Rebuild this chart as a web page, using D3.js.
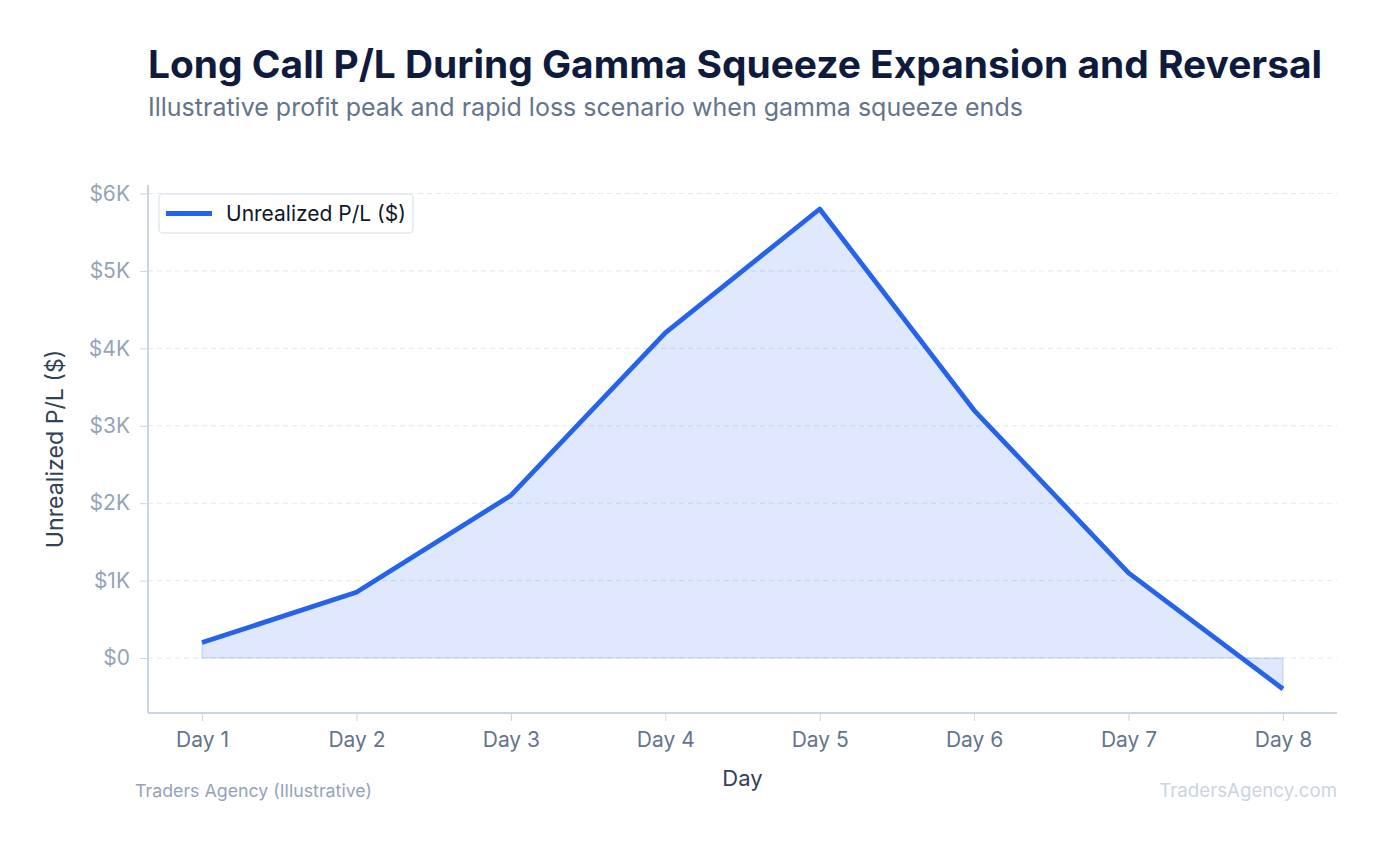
<!DOCTYPE html>
<html>

<head>
  <meta charset="UTF-8">
  <title>Long Call P/L During Gamma Squeeze</title>
  <script src="https://d3js.org/d3.v7.min.js"></script>
  <style>
    body {
      margin: 0;
      background: #fff;
      font-family: Inter, "Noto Sans", sans-serif;
    }

    .grid line {
      stroke: #e2e8f0;
      stroke-dasharray: 5 4;
    }

    .axis path,
    .axis line {
      stroke: #cbd5e1;
    }
  </style>
</head>

<body>
  <div id="chart"></div>
  <script>
    // chart data
    var days = ["Day 1", "Day 2", "Day 3", "Day 4", "Day 5", "Day 6", "Day 7", "Day 8"];
    var pnl = [200, 850, 2100, 4200, 5800, 3200, 1100, -400];
    var yTicks = [0, 1000, 2000, 3000, 4000, 5000, 6000];
    var seriesName = "Unrealized P/L ($)";

    var width = 1383, height = 846;
    var plotLeft = 148, plotRight = 1337, plotTop = 185, plotBottom = 713;

    var svg = d3.select("#chart").append("svg")
      .attr("width", width)
      .attr("height", height);

    var data = days.map(function (d, i) { return { day: d, value: pnl[i] }; });

    var xScale = d3.scalePoint()
      .domain(days)
      .range([plotLeft, plotRight])
      .padding(0.35);

    // 5% grace above and below the data range
    var lo = d3.min(pnl), hi = d3.max(pnl), grace = (hi - lo) * 0.05;
    var yScale = d3.scaleLinear()
      .domain([lo - grace, hi + grace])
      .range([plotBottom, plotTop]);

    // title + subtitle
    svg.append("text")
      .attr("x", plotLeft).attr("y", 78)
      .attr("font-size", 38.9).attr("font-weight", 700)
      .attr("fill", "#0f1b3d")
      .text("Long Call P/L During Gamma Squeeze Expansion and Reversal");

    svg.append("text")
      .attr("x", plotLeft).attr("y", 116)
      .attr("font-size", 25)
      .attr("fill", "#64748b")
      .text("Illustrative profit peak and rapid loss scenario when gamma squeeze ends");

    // gridlines
    svg.append("g")
      .attr("class", "grid")
      .selectAll("line")
      .data(yTicks)
      .enter().append("line")
      .attr("x1", plotLeft).attr("x2", plotRight)
      .attr("y1", function (d) { return yScale(d); })
      .attr("y2", function (d) { return yScale(d); });

    // area to zero
    var area = d3.area()
      .x(function (d) { return xScale(d.day); })
      .y0(yScale(0))
      .y1(function (d) { return yScale(d.value); });

    svg.append("path")
      .datum(data)
      .attr("d", area)
      .attr("fill", "rgba(37,99,235,0.15)")
      .attr("stroke", "rgba(37,99,235,0.12)")
      .attr("stroke-width", 2);

    var line = d3.line()
      .x(function (d) { return xScale(d.day); })
      .y(function (d) { return yScale(d.value); });

    svg.append("path")
      .datum(data)
      .attr("d", line)
      .attr("fill", "none")
      .attr("stroke", "#2563eb")
      .attr("stroke-width", 4.8)
      .attr("stroke-linejoin", "round");

    // axes
    var yAxis = svg.append("g")
      .attr("class", "axis")
      .attr("transform", "translate(" + plotLeft + ",0)")
      .call(d3.axisLeft(yScale)
        .tickValues(yTicks)
        .tickSize(8)
        .tickPadding(10)
        .tickFormat(function (d) { return d === 0 ? "$0" : "$" + d / 1000 + "K"; }));
    yAxis.select(".domain").attr("d", "M0," + plotTop + "V" + plotBottom).attr("stroke-width", 2);
    yAxis.selectAll("text")
      .attr("font-family", "Inter, sans-serif")
      .attr("font-size", 21)
      .attr("fill", "#94a3b8");

    var xAxis = svg.append("g")
      .attr("class", "axis")
      .attr("transform", "translate(0," + plotBottom + ")")
      .call(d3.axisBottom(xScale).tickSize(8).tickPadding(11));
    xAxis.select(".domain").attr("d", "M" + plotLeft + ",0H" + plotRight).attr("stroke-width", 2);
    xAxis.selectAll("text")
      .attr("font-family", "Inter, sans-serif")
      .attr("font-size", 21)
      .attr("fill", "#64748b");

    // axis titles
    svg.append("text")
      .attr("x", (plotLeft + plotRight) / 2).attr("y", 786)
      .attr("text-anchor", "middle")
      .attr("font-size", 22)
      .attr("fill", "#334155")
      .text("Day");

    svg.append("text")
      .attr("transform", "translate(63," + (plotTop + plotBottom) / 2 + ") rotate(-90)")
      .attr("text-anchor", "middle")
      .attr("font-size", 23.2)
      .attr("fill", "#334155")
      .text("Unrealized P/L ($)");

    // legend
    var legend = svg.append("g").attr("transform", "translate(159,194)");
    legend.append("rect")
      .attr("width", 254).attr("height", 39).attr("rx", 4)
      .attr("fill", "#fff").attr("stroke", "#e2e8f0").attr("stroke-width", 1.5);
    legend.append("line")
      .attr("x1", 7).attr("x2", 53).attr("y1", 19.5).attr("y2", 19.5)
      .attr("stroke", "#2563eb").attr("stroke-width", 5);
    legend.append("text")
      .attr("x", 67).attr("y", 27)
      .attr("font-size", 21).attr("fill", "#0f172a")
      .text(seriesName);

    // footer
    svg.append("text")
      .attr("x", 135).attr("y", 797)
      .attr("font-size", 17.8).attr("fill", "#94a3b8")
      .text("Traders Agency (Illustrative)");

    svg.append("text")
      .attr("x", plotRight).attr("y", 797)
      .attr("text-anchor", "end")
      .attr("font-size", 18.7).attr("fill", "#cbd5e1")
      .text("TradersAgency.com");
  </script>
</body>

</html>
